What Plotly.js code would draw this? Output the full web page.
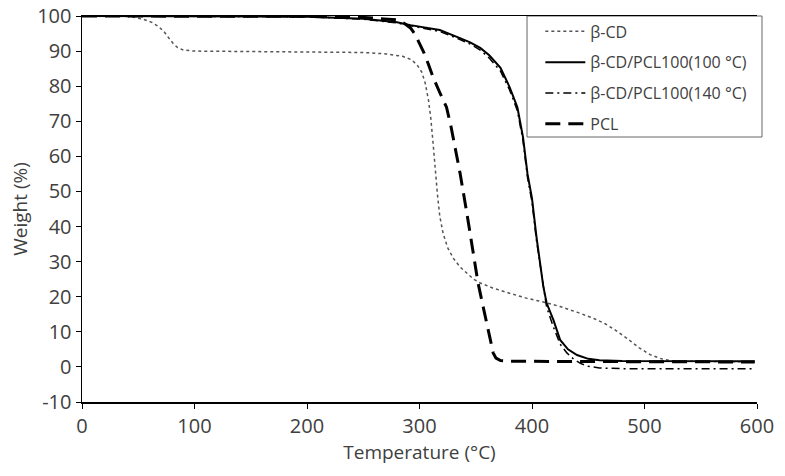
<!DOCTYPE html>
<html>
<head>
<meta charset="utf-8">
<script src="https://cdn.plot.ly/plotly-3.0.1.min.js"></script>
<style>html,body{margin:0;padding:0;background:#fff;}#chart{width:785px;height:476px;}</style>
</head>
<body>
<div id="chart"></div>
<script>
const seriesNames = ["β-CD", "β-CD/PCL100(100 °C)", "β-CD/PCL100(140 °C)", "PCL"];

const cdTemp = [34,45,55,62,68,73,77,81,85,90,100,150,200,250,270,285,293,298,302,305,308,310,312,314,316,318,321,325,330,336,342,348,354,365,380,395,410,425,440,455,465,475,485,495,505,515,525,540,570,598];
const cdWeight = [100,99.7,99.0,98.2,97.0,95.5,93.8,92.2,91.0,90.3,90.0,89.9,89.8,89.6,89.2,88.5,87.5,86.0,84.0,81,76,71,64,56,49,43,38,34,31,28.5,26.8,25.0,23.9,22.5,21.0,19.6,18.5,17.2,15.6,13.8,12.3,10.3,8.0,5.5,3.5,2.3,1.7,1.6,1.5,1.5];

const p100Temp = [0,100,200,250,280,292,305,318,336,345,354,362,372,380,387,392,396,400,404,407,410,413,419,425,432,440,450,460,480,598];
const p100Weight = [100,100,99.8,99.2,98.2,97.4,96.7,96.0,93.7,92.5,90.9,88.8,85.2,79.8,74,65.5,55,48,37,30,23,18.2,13.4,7.7,5.0,3.4,2.3,1.9,1.7,1.6];

const p140Temp = [0,100,200,250,280,292,305,318,336,345,354,362,372,380,387,392,396,400,404,407,410,413,419,425,431,437,443,450,460,480,598];
const p140Weight = [100,100,99.8,99.1,98.0,97.2,96.4,95.6,93.3,92.0,90.3,88.0,84.3,79.0,73,64.5,54,47,36,29.5,22.5,17,11.4,6.5,4.0,2.2,1.0,0.2,-0.3,-0.5,-0.5];

const pclTemp = [0,100,200,250,270,280,287,292,296,300,304,308,312,318,324,328,331.5,336,342,347.6,352,356,360,363,365.5,368,372,380,450,598];
const pclWeight = [100,100,99.9,99.6,99.2,98.9,97.8,96.6,94.8,92.3,89.5,86.2,82.6,78.2,74,68.5,62.7,55.3,44,33.3,24,18,12.5,7.5,4,2.5,1.8,1.6,1.5,1.4];

const xTicks = [0,100,200,300,400,500,600];
const yTicks = [-10,0,10,20,30,40,50,60,70,80,90,100];

const traces = [
  {x: cdTemp, y: cdWeight, name: seriesNames[0], legendgroup: 'a', mode: 'lines', line: {color: '#555555', width: 1.5, dash: 'dot'}},
  {x: p100Temp, y: p100Weight, name: seriesNames[1], legendgroup: 'b', mode: 'lines', line: {color: '#000000', width: 2}},
  {x: p140Temp, y: p140Weight, name: seriesNames[2], legendgroup: 'c', mode: 'lines', line: {color: '#000000', width: 1.5, dash: '8px,4px,2px,4px'}},
  {x: pclTemp, y: pclWeight, name: seriesNames[3], legendgroup: 'd', mode: 'lines', line: {color: '#000000', width: 3, dash: '15px,8px'}}
];

const fontFam = '"Open Sans", "Liberation Sans", sans-serif';
const layout = {
  width: 785, height: 476,
  margin: {l: 82, r: 28, t: 16, b: 74},
  paper_bgcolor: '#ffffff', plot_bgcolor: '#ffffff',
  font: {family: fontFam, size: 18, color: '#404040'},
  showlegend: true,
  legend: {
    x: 0.679, y: 1.004, xanchor: 'left', yanchor: 'top',
    bgcolor: 'rgba(0,0,0,0)', borderwidth: 0,
    font: {family: fontFam, size: 16, color: '#404040'},
    itemwidth: 40, tracegroupgap: 7
  },
  shapes: [
    {type: 'rect', xref: 'paper', yref: 'paper', x0: 0.6593, x1: 1.0074, y0: 0.6865, y1: 1,
     line: {color: '#666666', width: 1}, fillcolor: 'rgba(0,0,0,0)', layer: 'below'}
  ],
  xaxis: {
    range: [0, 600], tickvals: xTicks, ticktext: xTicks.map(String),
    showgrid: false, zeroline: false,
    showline: true, linecolor: '#000000', linewidth: 1.5, mirror: true,
    ticks: 'outside', ticklen: 5, tickcolor: '#000000', tickwidth: 1,
    tickfont: {size: 20, color: '#404040'},
    title: {text: 'Temperature (°C)', font: {size: 19, color: '#404040'}, standoff: 8}
  },
  yaxis: {
    range: [-10, 100], tickvals: yTicks, ticktext: yTicks.map(String),
    showgrid: false, zeroline: false,
    showline: true, linecolor: '#000000', linewidth: 1.5,
    ticks: 'outside', ticklen: 5, tickcolor: '#000000', tickwidth: 1,
    tickfont: {size: 20, color: '#404040'},
    title: {text: 'Weight (%)', font: {size: 19, color: '#404040'}, standoff: 4}
  }
};

Plotly.newPlot('chart', traces, layout, {displayModeBar: false, staticPlot: true});
</script>
</body>
</html>
